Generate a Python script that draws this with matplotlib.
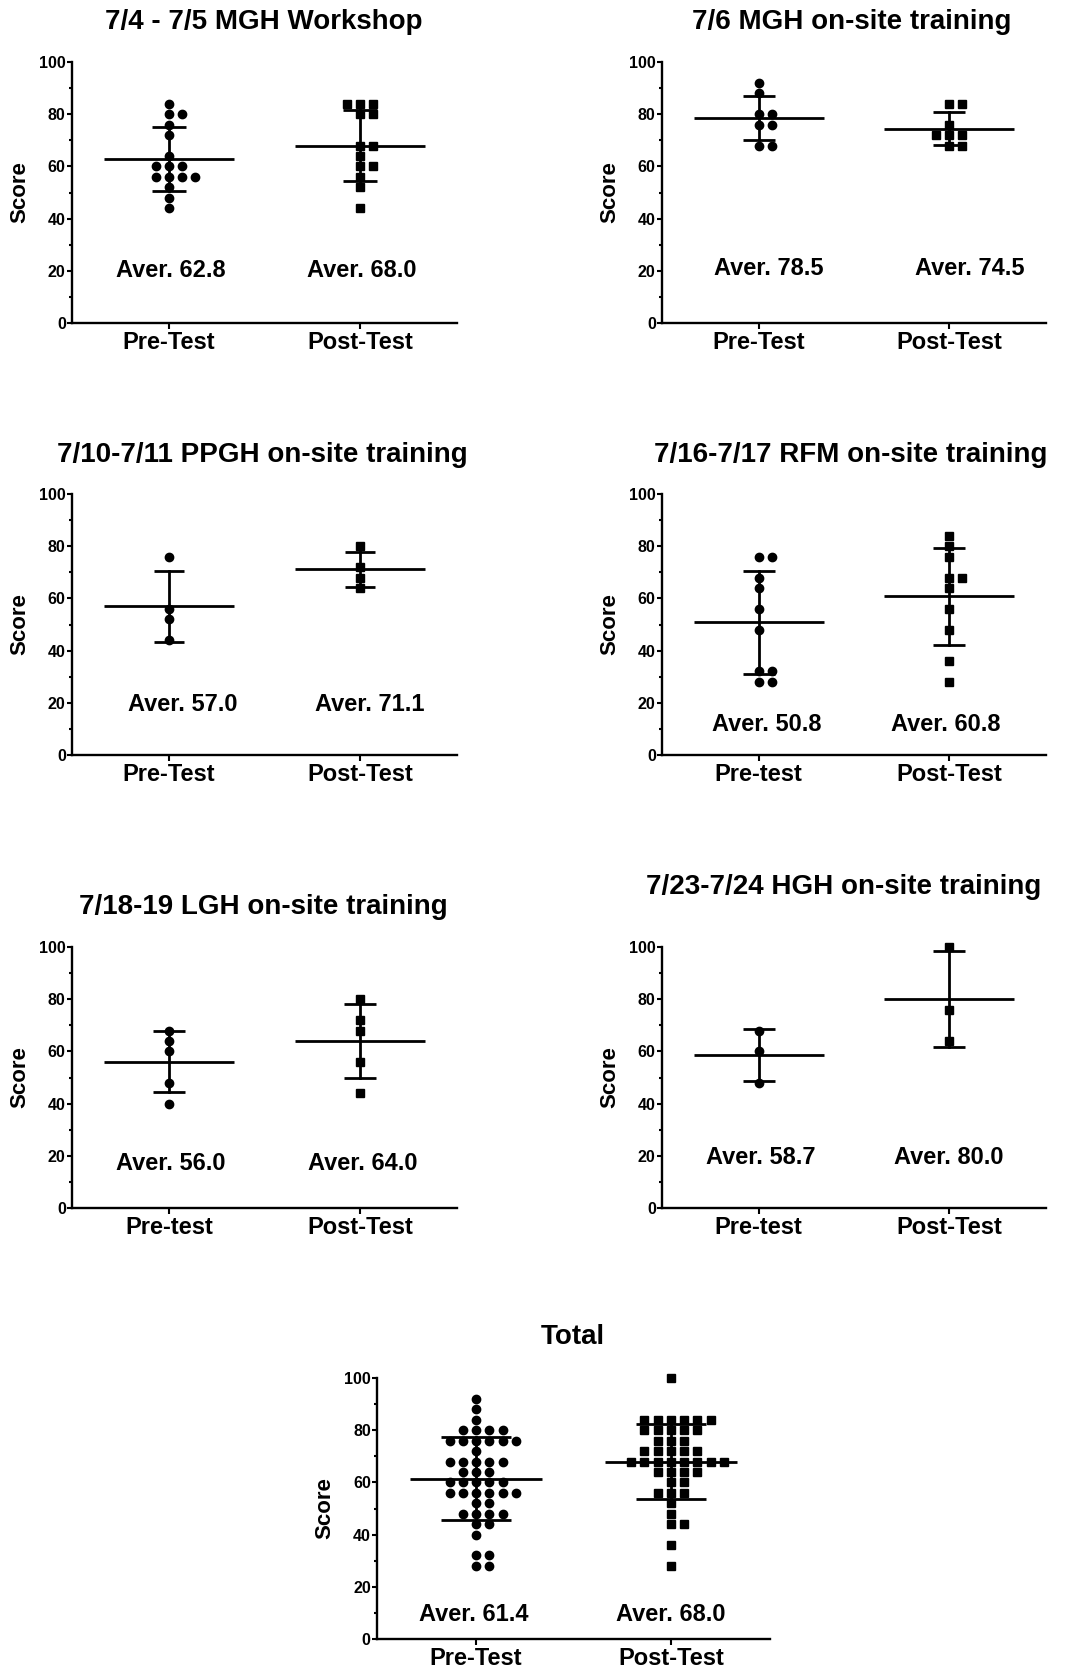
#!/usr/bin/env python3
"""
Pre/post test score scatter plots for each training site, plus the total.
"""

import numpy as np
import matplotlib
matplotlib.use('Agg')
import matplotlib.pyplot as plt
from matplotlib.ticker import MultipleLocator

plt.rcParams['font.family'] = ['Liberation Sans', 'DejaVu Sans']
plt.rcParams['font.weight'] = 'bold'

# --- data --------------------------------------------------------------
titles = ['7/4 - 7/5 MGH Workshop', '7/6 MGH on-site training',
          '7/10-7/11 PPGH on-site training', '7/16-7/17 RFM on-site training',
          '7/18-19 LGH on-site training', '7/23-7/24 HGH on-site training',
          'Total']

pre_labels = ['Pre-Test', 'Pre-Test', 'Pre-Test', 'Pre-test', 'Pre-test', 'Pre-test', 'Pre-Test']
post_labels = ['Post-Test'] * 7

mgh_ws_pre = [84, 80, 80, 76, 72, 64, 60, 60, 60, 56, 56, 56, 56, 52, 48, 44]
mgh_ws_post = [84, 84, 84, 80, 80, 68, 68, 64, 60, 60, 56, 52, 44]
mgh_site_pre = [92, 88, 80, 80, 76, 76, 68, 68]
mgh_site_post = [84, 84, 76, 72, 72, 72, 68, 68]
ppgh_pre = [76, 56, 52, 44]
ppgh_post = [80, 72, 68, 64]
rfm_pre = [76, 76, 68, 64, 56, 48, 32, 32, 28, 28]
rfm_post = [84, 80, 76, 68, 68, 64, 56, 48, 36, 28]
lgh_pre = [68, 64, 60, 48, 40]
lgh_post = [80, 72, 68, 56, 44]
hgh_pre = [68, 60, 48]
hgh_post = [100, 76, 64]

pre_sets = [mgh_ws_pre, mgh_site_pre, ppgh_pre, rfm_pre, lgh_pre, hgh_pre]
post_sets = [mgh_ws_post, mgh_site_post, ppgh_post, rfm_post, lgh_post, hgh_post]
# the total panel pools every site
pre_sets.append(sum(pre_sets, []))
post_sets.append(sum(post_sets, []))

pre_avg = [62.8, 78.5, 57.0, 50.8, 56.0, 58.7, 61.4]
post_avg = [68.0, 74.5, 71.1, 60.8, 64.0, 80.0, 68.0]

# --- layout (pixels of the 1068x1672 figure) ---------------------------
W, H = 1068, 1672
# left, right, y of score 0, y of score 100
axes_px = [(72, 457, 323, 62), (662, 1046, 323, 62),
           (72, 457, 755, 494), (662, 1046, 755, 494),
           (72, 457, 1208, 947), (662, 1046, 1208, 947),
           (377, 770, 1639, 1378)]
title_px = [(264, 22), (852, 22), (262, 455), (851, 455),
            (263, 907), (844, 887), (573, 1337)]
# label x shift for pre, post and the score height of the "Aver." texts
aver_pos = [(0.01, 0.01, 20.3), (0.05, 0.11, 20.7), (0.07, 0.05, 19.5),
            (0.04, -0.02, 11.5), (0.01, 0.015, 17.2), (0.01, 0.0, 19.2),
            (-0.01, 0.0, 9.2)]
cap_half = [0.088, 0.085, 0.08, 0.085, 0.085, 0.085, 0.18]
MEAN_HALF = 0.34
STEP = 0.068
XLIM = (-0.508, 1.508)


def swarm_offsets(values, step):
    """Put equal scores side by side on a column grid: 0, +1, -1, +2, ..."""
    values = np.asarray(values)
    offs = np.zeros(len(values))
    order = [0]
    for n in range(1, len(values) + 1):
        order += [n, -n]
    for v in np.unique(values):
        idx = np.where(values == v)[0]
        offs[idx] = np.array(order[:len(idx)]) * step
    return offs


def draw_group(ax, x, values, mean, marker, ms, cap):
    values = np.asarray(values, dtype=float)
    sd = values.std(ddof=1)
    xs = x + swarm_offsets(values, STEP)
    ax.plot(xs, values, linestyle='none', marker=marker, ms=ms,
            color='black', clip_on=False, zorder=3)
    ax.plot([x - MEAN_HALF, x + MEAN_HALF], [mean, mean], color='black', lw=2.0,
            zorder=4, solid_capstyle='butt')
    ax.plot([x, x], [mean - sd, mean + sd], color='black', lw=2.0, zorder=4)
    for y in (mean - sd, mean + sd):
        ax.plot([x - cap, x + cap], [y, y], color='black', lw=2.0, zorder=4,
                solid_capstyle='butt')


fig = plt.figure(figsize=(W / 100, H / 100), dpi=100)

for i in range(len(titles)):
    left, right, y0, y100 = axes_px[i]
    ax = fig.add_axes([left / W, 1 - y0 / H, (right - left) / W, (y0 - y100) / H])

    draw_group(ax, 0, pre_sets[i], pre_avg[i], 'o', 6.0, cap_half[i])
    draw_group(ax, 1, post_sets[i], post_avg[i], 's', 5.6, cap_half[i])

    dx_pre, dx_post, ty = aver_pos[i]
    ax.text(0 + dx_pre, ty, f'Aver. {pre_avg[i]:.1f}', ha='center', va='center',
            fontsize=17, fontweight='bold')
    ax.text(1 + dx_post, ty, f'Aver. {post_avg[i]:.1f}', ha='center', va='center',
            fontsize=17, fontweight='bold')

    ax.set_xlim(*XLIM)
    ax.set_ylim(0, 100)
    ax.set_xticks([0, 1])
    ax.set_xticklabels([pre_labels[i], post_labels[i]], fontsize=17, fontweight='bold')
    ax.yaxis.set_major_locator(MultipleLocator(20))
    ax.yaxis.set_minor_locator(MultipleLocator(10))
    for lab in ax.get_yticklabels():
        lab.set_fontsize(11.5)
        lab.set_fontweight('bold')

    for side in ('top', 'right'):
        ax.spines[side].set_visible(False)
    for side in ('left', 'bottom'):
        ax.spines[side].set_linewidth(1.7)
    ax.tick_params(axis='y', which='major', direction='out', length=3.5, width=1.5, pad=1)
    ax.tick_params(axis='y', which='minor', direction='out', length=2.5, width=1.5)
    ax.tick_params(axis='x', which='major', direction='out', length=4, width=1.5, pad=1.5)

    # "Score" sits about 52 px left of the y axis
    ax.text(-52 / (right - left), 0.5, 'Score', rotation=90,
            ha='center', va='center', fontsize=16, fontweight='bold',
            transform=ax.transAxes)

    tx, tyy = title_px[i]
    fig.text(tx / W, 1 - tyy / H, titles[i], ha='center', va='center',
             fontsize=20, fontweight='bold')

fig.savefig('out.png', dpi=100, facecolor='white')
plt.close(fig)
